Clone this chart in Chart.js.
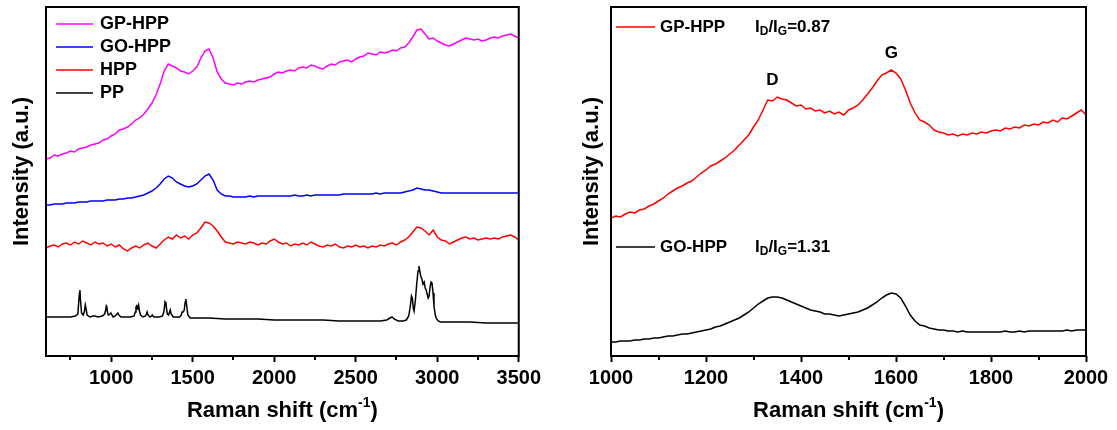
<!DOCTYPE html>
<html>
<head>
<meta charset="utf-8">
<title>Raman spectra</title>
<script src="https://cdn.jsdelivr.net/npm/chart.js@4.4.1/dist/chart.umd.min.js"></script>
<style>
  html, body { margin: 0; padding: 0; background: #fff; }
  #left  { position: absolute; left: 0;     top: 0; width: 545px; height: 430px; }
  #right { position: absolute; left: 565px; top: 0; width: 552px; height: 430px; }
</style>
</head>
<body>
<div id="left"><canvas id="leftChart"></canvas></div>
<div id="right"><canvas id="rightChart"></canvas></div>
<script>
// ---- left panel data (Raman shift in cm-1, intensity in arbitrary units, curves already offset) ----
var shiftLeft = [600,625,650,675,700,725,750,775,800,825,850,875,900,925,950,975,
  1000,1025,1050,1075,1100,1125,1150,1175,1200,1225,1250,1275,1300,1325,1350,1375,1400,1425,1450,1475,
  1500,1525,1550,1575,1600,1625,1650,1675,1700,1725,1750,1775,1800,1825,1850,1875,1900,1925,1950,1975,
  2000,2025,2050,2075,2100,2125,2150,2175,2200,2225,2250,2275,2300,2325,2350,2375,2400,2425,2450,2475,
  2500,2525,2550,2575,2600,2625,2650,2675,2700,2725,2750,2775,2800,2825,2850,2875,2900,2925,2950,2975,
  3000,3025,3050,3075,3100,3125,3150,3175,3200,3225,3250,3275,3300,3325,3350,3375,3400,3425,3450,3475,
  3500];

var gpHpp = [197,198,201,200,202,203,205,204,207,208,209,211,212,213,216,217,
  220,222,226,227,229,232,236,238,242,247,253,261,272,285,292,290,288,285,284,282,
  285,289,298,305,307,298,284,277,273,272,271,273,272,274,275,274,276,277,278,279,
  282,284,283,285,286,285,288,289,288,291,290,288,287,290,292,291,294,295,296,294,
  297,299,300,303,302,301,304,303,304,306,305,308,309,313,319,326,327,322,317,318,
  315,313,311,310,312,314,316,318,317,316,317,315,316,318,319,318,320,321,322,320,
  318];

var goHpp = [151,151,152,152,152,153,153,153,154,154,154,155,155,155,155,156,
  156,156,157,157,158,158,159,160,161,163,165,168,172,177,180,178,174,172,170,169,
  170,172,176,180,182,176,166,162,160,160,159,159,159,159,160,159,160,160,160,160,
  160,160,160,160,160,161,160,160,161,160,161,161,161,161,161,161,161,162,162,162,
  162,162,162,162,162,163,162,163,163,163,163,163,164,165,166,168,167,166,166,165,
  164,163,163,163,163,163,163,163,163,163,163,163,163,163,163,163,163,163,163,163,
  163];

var hpp = [108,110,111,109,112,113,111,114,112,115,113,111,114,112,113,110,
  112,109,111,107,105,108,110,108,111,113,110,108,112,116,119,117,121,118,120,117,
  121,123,128,134,133,130,125,119,114,113,112,114,113,112,114,113,111,113,112,115,
  117,114,112,113,110,112,111,113,111,114,112,110,109,111,110,112,109,108,110,109,
  111,109,110,108,110,109,111,110,112,113,111,114,116,119,124,129,128,125,121,126,
  119,116,115,112,114,116,118,119,117,118,116,117,118,117,118,117,119,120,121,119,
  116];

// PP has sharp bands, so it gets its own (denser) shift list
var ppShift = [600,650,700,750,780,795,800,805,808,812,
  818,828,835,841,846,852,870,890,900,920,
  945,960,966,970,973,977,983,992,998,1004,
  1012,1025,1035,1041,1047,1060,1080,1100,1120,1140,
  1148,1152,1156,1160,1164,1168,1172,1180,1195,1210,
  1216,1220,1226,1238,1248,1252,1256,1262,1275,1295,
  1315,1324,1330,1336,1344,1352,1358,1362,1368,1380,
  1400,1420,1430,1435,1441,1448,1454,1458,1462,1470,
  1485,1510,1550,1600,1700,1800,1900,2000,2100,2200,
  2300,2400,2500,2600,2650,2690,2710,2723,2735,2760,
  2790,2810,2825,2835,2842,2847,2853,2858,2866,2874,
  2882,2888,2894,2900,2906,2912,2920,2926,2932,2938,
  2944,2950,2956,2962,2968,2974,2980,2988,2996,3006,
  3020,3050,3100,3200,3300,3400,3500];

var ppIntensity = [39,39,39,39,40,42,52,63,66,55,
  43,41,44,51,47,41,39,40,40,39,
  40,42,46,50,49,44,41,42,43,41,
  39,40,42,43,41,39,39,39,39,40,
  44,49,50,47,49,51,46,41,39,40,
  42,44,41,39,40,41,41,39,39,39,
  40,45,54,52,42,41,44,46,42,39,
  39,39,41,44,44,46,54,57,52,41,
  38,38,38,38,37,37,37,36,36,36,
  36,35,35,35,35,36,38,39,37,35,
  35,36,40,50,60,58,48,45,56,72,
  85,90,84,79,77,72,74,68,66,62,
  58,60,69,74,73,63,50,41,37,35,
  34,34,34,34,33,33,33];

var leftRange = [600, 3500];
var leftTickLabels = [1000, 1500, 2000, 2500, 3000, 3500];
var leftMinor = [750, 1250, 1750, 2250, 2750, 3250];

// ---- right panel data (D and G bands) ----
var shiftRight = [1000,1010,1020,1030,1040,1050,1060,1070,1080,1090,
  1100,1110,1120,1130,1140,1150,1160,1170,1180,1190,
  1200,1210,1220,1230,1240,1250,1260,1270,1280,1290,
  1300,1310,1320,1330,1340,1350,1360,1370,1380,1390,
  1400,1410,1420,1430,1440,1450,1460,1470,1480,1490,
  1500,1510,1520,1530,1540,1550,1560,1570,1580,1590,
  1600,1610,1620,1630,1640,1650,1660,1670,1680,1690,
  1700,1710,1720,1730,1740,1750,1760,1770,1780,1790,
  1800,1810,1820,1830,1840,1850,1860,1870,1880,1890,
  1900,1910,1920,1930,1940,1950,1960,1970,1980,1990,
  2000];

var gpHppBands = [138,140,139,142,144,143,146,147,150,152,
  155,158,162,165,168,170,173,175,179,183,
  186,190,192,195,198,202,206,211,216,221,
  229,236,246,256,255,259,257,256,253,250,
  251,247,248,245,246,243,245,242,244,241,
  246,248,251,256,262,268,275,281,283,286,
  283,277,266,253,243,236,234,231,226,224,
  223,221,222,220,222,221,223,222,224,223,
  225,226,225,228,227,229,228,231,230,232,
  231,234,233,236,234,238,237,240,243,246,
  241];

var goHppBands = [14,14,15,15,15,16,16,17,17,18,
  18,19,20,20,21,22,22,23,24,25,
  26,27,29,30,32,34,36,38,41,44,
  48,52,55,58,59,59,58,56,54,52,
  50,48,46,45,44,42,42,41,40,41,
  42,43,44,46,48,51,54,58,61,63,
  62,58,50,41,35,31,30,28,27,26,
  26,25,25,24,25,24,24,24,24,24,
  24,24,24,25,24,24,25,24,25,25,
  25,25,25,25,25,25,26,25,26,26,
  26];

var rightRange = [1000, 2000];
var rightTickLabels = [1000, 1200, 1400, 1600, 1800, 2000];
var rightMinor = [1100, 1300, 1500, 1700, 1900];

var ratioGP = '0.87';
var ratioGO = '1.31';

// ---- helpers ----
var FONT = '"Liberation Sans", Arial, Helvetica, sans-serif';

function pairs(xs, ys) {
  return xs.map(function (x, i) { return { x: x, y: ys[i] }; });
}

function lineSet(label, xs, ys, color) {
  return {
    label: label,
    data: pairs(xs, ys),
    borderColor: color,
    backgroundColor: color,
    borderWidth: 1.5,
    pointRadius: 0,
    tension: 0,
    fill: false
  };
}

// text like I_D/I_G=0.87 with subscripts
function drawRatio(ctx, x, y, value, size) {
  var big = 'bold ' + size + 'px ' + FONT;
  var small = 'bold ' + Math.round(size * 0.7) + 'px ' + FONT;
  var parts = [['I', big, 0], ['D', small, 5], ['/I', big, 0], ['G', small, 5], ['=' + value, big, 0]];
  parts.forEach(function (p) {
    ctx.font = p[1];
    ctx.fillText(p[0], x, y + p[2]);
    x += ctx.measureText(p[0]).width;
  });
}

function framePlugin(cfg) {
  return {
    id: 'frame',
    afterDraw: function (chart) {
      var ctx = chart.ctx, a = chart.chartArea, xs = chart.scales.x;
      ctx.save();
      ctx.strokeStyle = '#000';
      ctx.fillStyle = '#000';
      ctx.lineWidth = 2;
      ctx.strokeRect(a.left, a.top, a.right - a.left, a.bottom - a.top);

      // minor ticks
      ctx.beginPath();
      cfg.minor.forEach(function (v) {
        var px = Math.round(xs.getPixelForValue(v));
        ctx.moveTo(px, a.bottom);
        ctx.lineTo(px, a.bottom + 4);
      });
      ctx.stroke();

      // x title with superscript
      ctx.textBaseline = 'middle';
      ctx.textAlign = 'left';
      var bigF = 'bold 22px ' + FONT, supF = 'bold 14px ' + FONT;
      ctx.font = bigF;
      var t1 = 'Raman shift (cm', t3 = ')';
      var w1 = ctx.measureText(t1).width, w3 = ctx.measureText(t3).width;
      ctx.font = supF;
      var w2 = ctx.measureText('-1').width;
      var x0 = (a.left + a.right) / 2 - (w1 + w2 + w3) / 2;
      ctx.font = bigF;
      ctx.fillText(t1, x0, cfg.xTitleY);
      ctx.font = supF;
      ctx.fillText('-1', x0 + w1, cfg.xTitleY - 8);
      ctx.font = bigF;
      ctx.fillText(t3, x0 + w1 + w2, cfg.xTitleY);

      // y title
      ctx.save();
      ctx.translate(cfg.yTitleX, (a.top + a.bottom) / 2 - 10);
      ctx.rotate(-Math.PI / 2);
      ctx.textAlign = 'center';
      ctx.fillText('Intensity (a.u.)', 0, 0);
      ctx.restore();

      // legend entries
      cfg.legend.forEach(function (e) {
        ctx.strokeStyle = e.color;
        ctx.lineWidth = 1.5;
        ctx.beginPath();
        ctx.moveTo(cfg.legendLine[0], e.y);
        ctx.lineTo(cfg.legendLine[1], e.y);
        ctx.stroke();
        ctx.font = 'bold ' + cfg.legendSize + 'px ' + FONT;
        ctx.textAlign = 'left';
        ctx.fillText(e.label, cfg.legendText, e.y);
        if (e.ratio) drawRatio(ctx, cfg.ratioX, e.y, e.ratio, cfg.legendSize);
      });

      // peak labels
      (cfg.peaks || []).forEach(function (p) {
        ctx.font = 'bold ' + cfg.legendSize + 'px ' + FONT;
        ctx.textAlign = 'center';
        ctx.fillText(p.text, xs.getPixelForValue(p.at), p.y);
      });
      ctx.restore();
    }
  };
}

function makeOptions(range, tickLabels, rightPad) {
  return {
    responsive: true,
    maintainAspectRatio: false,
    animation: false,
    layout: { padding: { top: 7, right: rightPad, left: 0, bottom: 0 } },
    plugins: { legend: { display: false }, tooltip: { enabled: false } },
    scales: {
      x: {
        type: 'linear',
        min: range[0],
        max: range[1],
        border: { display: false },
        grid: { drawOnChartArea: false, drawTicks: true, tickLength: 6, tickWidth: 2, tickColor: '#000' },
        afterBuildTicks: function (axis) {
          axis.ticks = tickLabels.map(function (v) { return { value: v }; });
        },
        ticks: {
          autoSkip: false,
          maxRotation: 0,
          padding: 4,
          color: '#000',
          font: { family: FONT, size: 20, weight: 'bold' },
          callback: function (v) { return String(v); }
        },
        afterFit: function (axis) { axis.height = 74; }
      },
      y: {
        min: 0,
        max: 349,
        border: { display: false },
        grid: { display: false },
        ticks: { display: false },
        afterFit: function (axis) { axis.width = 46; }
      }
    }
  };
}

// ---- left chart ----
new Chart(document.getElementById('leftChart').getContext('2d'), {
  type: 'line',
  data: {
    datasets: [
      lineSet('PP', ppShift, ppIntensity, '#000000'),
      lineSet('HPP', shiftLeft, hpp, '#ff0000'),
      lineSet('GO-HPP', shiftLeft, goHpp, '#0000ff'),
      lineSet('GP-HPP', shiftLeft, gpHpp, '#ff00ff')
    ]
  },
  options: makeOptions(leftRange, leftTickLabels, 25),
  plugins: [framePlugin({
    minor: leftMinor,
    xTitleY: 411,
    yTitleX: 22,
    legendLine: [56, 93],
    legendText: 100,
    legendSize: 18,
    legend: [
      { label: 'GP-HPP', color: '#ff00ff', y: 24 },
      { label: 'GO-HPP', color: '#0000ff', y: 47 },
      { label: 'HPP', color: '#ff0000', y: 70 },
      { label: 'PP', color: '#000000', y: 93 }
    ]
  })]
});

// ---- right chart ----
new Chart(document.getElementById('rightChart').getContext('2d'), {
  type: 'line',
  data: {
    datasets: [
      lineSet('GO-HPP', shiftRight, goHppBands, '#000000'),
      lineSet('GP-HPP', shiftRight, gpHppBands, '#ff0000')
    ]
  },
  options: makeOptions(rightRange, rightTickLabels, 31),
  plugins: [framePlugin({
    minor: rightMinor,
    xTitleY: 411,
    yTitleX: 27,
    legendLine: [51, 90],
    legendText: 95,
    ratioX: 190,
    legendSize: 17,
    legend: [
      { label: 'GP-HPP', color: '#ff0000', y: 27, ratio: ratioGP },
      { label: 'GO-HPP', color: '#000000', y: 247, ratio: ratioGO }
    ],
    peaks: [
      { text: 'D', at: 1340, y: 80 },
      { text: 'G', at: 1590, y: 53 }
    ]
  })]
});
</script>
</body>
</html>
